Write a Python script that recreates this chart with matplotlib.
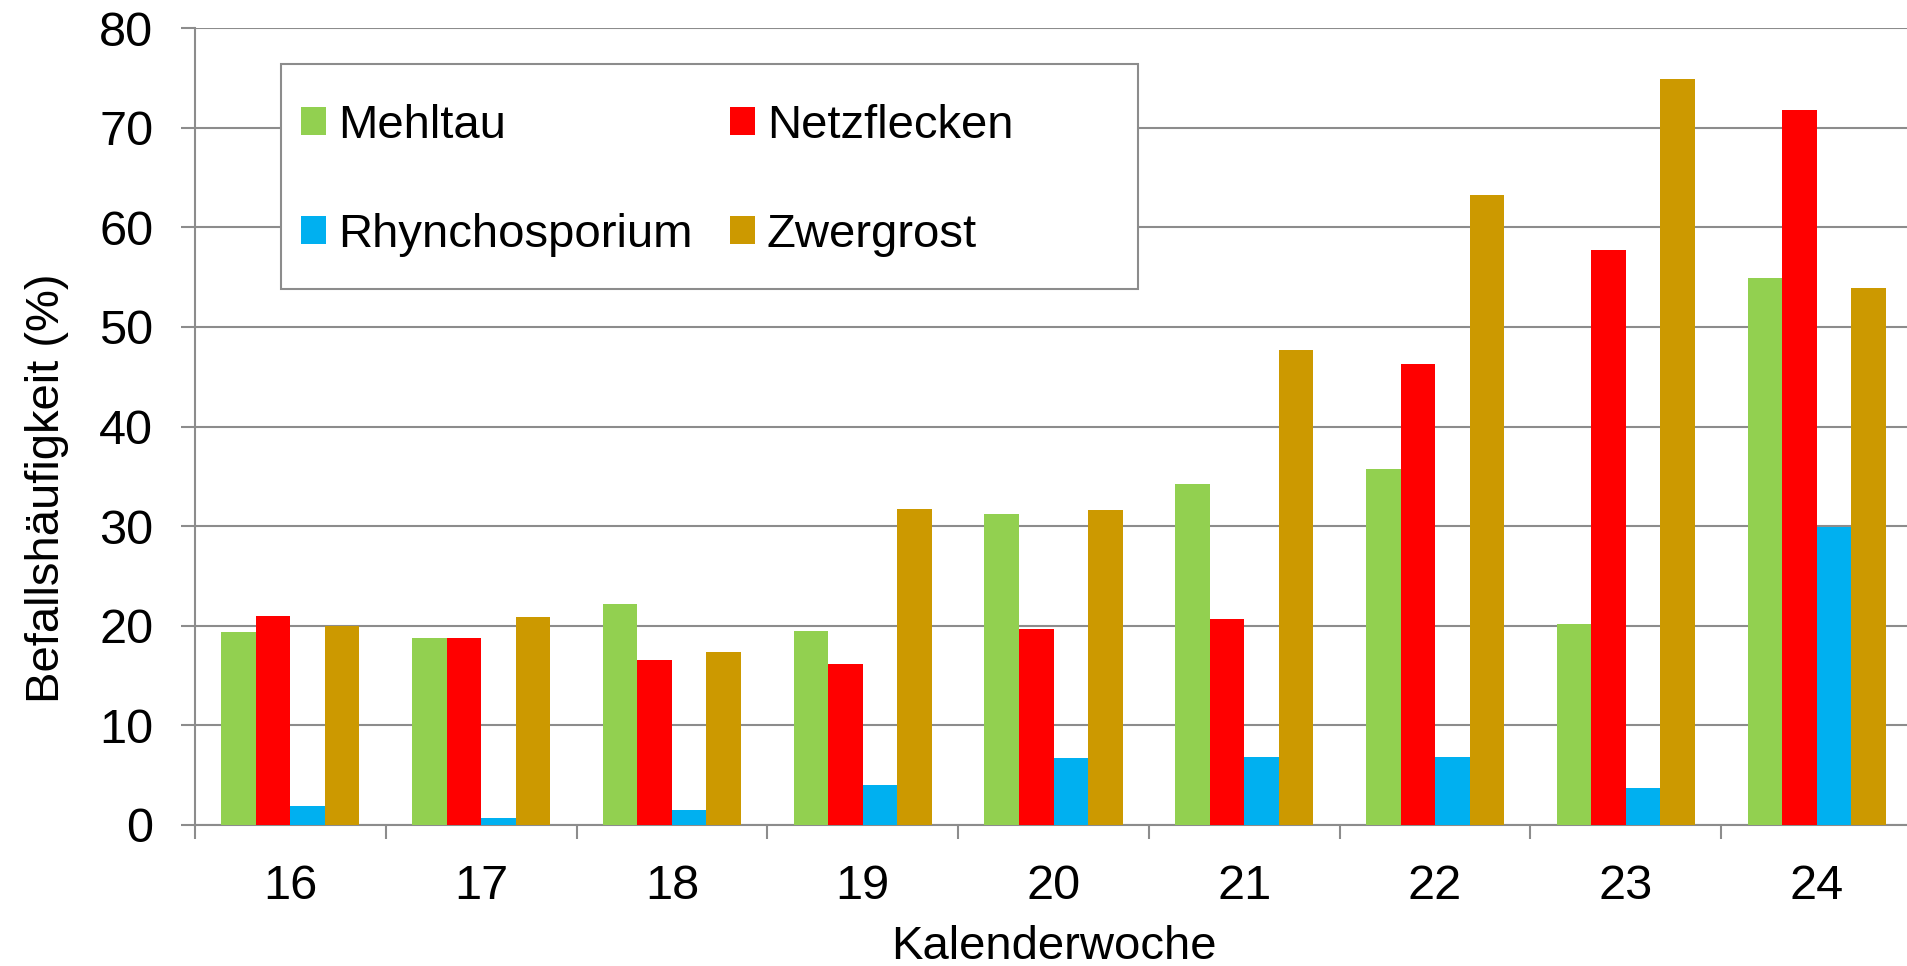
import numpy as np
import matplotlib
matplotlib.use("Agg")
import matplotlib.pyplot as plt
from matplotlib.patches import Rectangle

plt.rcParams['font.family'] = ['Liberation Sans', 'DejaVu Sans']

# data
weeks = ['16', '17', '18', '19', '20', '21', '22', '23', '24']
mehltau = [19.4, 18.8, 22.2, 19.5, 31.2, 34.2, 35.7, 20.2, 54.9]
netzflecken = [21.0, 18.8, 16.6, 16.2, 19.7, 20.7, 46.3, 57.7, 71.8]
rhynchosporium = [1.9, 0.7, 1.5, 4.0, 6.7, 6.8, 6.8, 3.7, 29.9]
zwergrost = [20.0, 20.9, 17.4, 31.7, 31.6, 47.7, 63.2, 74.9, 53.9]

series = [('Mehltau', mehltau, '#92D050'),
          ('Netzflecken', netzflecken, '#FF0000'),
          ('Rhynchosporium', rhynchosporium, '#00B0F0'),
          ('Zwergrost', zwergrost, '#CC9900')]

W, H = 1907, 966
fs = 35
fig = plt.figure(figsize=(W / 100, H / 100), dpi=100)
ax = fig.add_axes([195 / W, 1 - 825 / H, (1912 - 195) / W, (825 - 28) / H])

grid_col = '#8C8C8C'
x = np.arange(len(weeks))
bw = 0.181
bars = []
for i, (name, vals, col) in enumerate(series):
    bars.append(ax.bar(x + (i - 1.5) * bw, vals, width=bw, color=col, label=name, zorder=3))

ax.set_xlim(-0.5, len(weeks) - 0.5)
ax.set_ylim(0, 80)
ax.set_yticks(range(0, 81, 10))
ax.yaxis.grid(True, color=grid_col, linewidth=1.5, zorder=0)
ax.set_axisbelow(True)

ax.set_xticks(x)
ax.set_xticklabels(weeks)
ax.set_xticks(np.arange(-0.5, len(weeks), 1.0), minor=True)
ax.tick_params(axis='x', which='major', length=0, pad=28, labelsize=fs)
ax.tick_params(axis='x', which='minor', length=10, width=1.5, color=grid_col)
ax.tick_params(axis='y', length=10, width=1.5, color=grid_col, pad=20, labelsize=fs)

for s in ['top', 'right']:
    ax.spines[s].set_visible(False)
for s in ['left', 'bottom']:
    ax.spines[s].set_color(grid_col)
    ax.spines[s].set_linewidth(1.5)

ax.set_ylabel('Befallshäufigkeit (%)', fontsize=34)
ax.yaxis.set_label_coords(-0.0735, 0.423)
ax.set_xlabel('Kalenderwoche', fontsize=34)
ax.xaxis.set_label_coords(0.5, -0.125)

# legend frame is wider than the entries, so draw it as its own box
frame = Rectangle((281 / W, 1 - 289 / H), (1138 - 281) / W, (289 - 64) / H,
                  transform=fig.transFigure, facecolor='white',
                  edgecolor=grid_col, linewidth=1.5, zorder=4, clip_on=False)
ax.add_patch(frame)
# row-wise order: Mehltau, Netzflecken / Rhynchosporium, Zwergrost
order = [0, 2, 1, 3]
leg = ax.legend([bars[k] for k in order], [series[k][0] for k in order],
                ncol=2, loc='upper left', frameon=False, fontsize=34,
                bbox_to_anchor=(301 / W, 1 - 104 / H), bbox_transform=fig.transFigure,
                borderpad=0, borderaxespad=0, handlelength=0.53, handleheight=0.53,
                handletextpad=0.25, labelspacing=1.37, columnspacing=0.8)
leg.set_zorder(5)

fig.savefig('out.png', dpi=100)
